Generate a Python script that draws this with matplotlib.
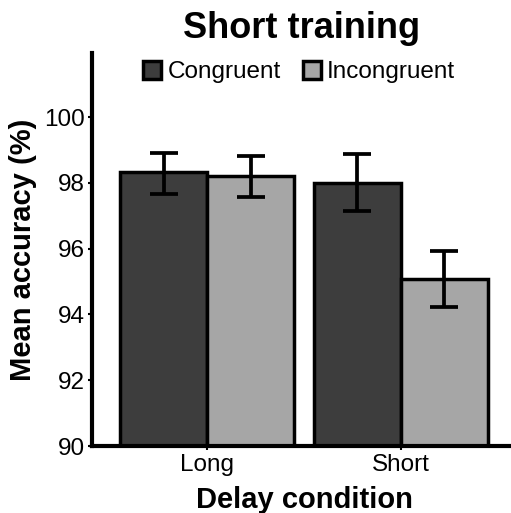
import matplotlib
matplotlib.use("Agg")
import matplotlib.pyplot as plt
import numpy as np
from matplotlib.patches import Patch

plt.rcParams['font.family'] = ['Liberation Sans', 'DejaVu Sans']

categories = ["Long", "Short"]
series = ["Congruent", "Incongruent"]
means_congruent = [98.32, 98.00]
means_incongruent = [98.20, 95.09]
err_low_congruent = [97.66, 97.14]
err_high_congruent = [98.90, 98.87]
err_low_incongruent = [97.58, 94.23]
err_high_incongruent = [98.81, 95.94]
colors = ["#3d3d3d", "#a6a6a6"]
yticks = [90, 92, 94, 96, 98, 100]

W, H = 511, 513
fig = plt.figure(figsize=(W/100, H/100), dpi=100)
left = 92 / W
bottom = (H - 446) / H
height = (446 - 53) / H
xlim = (0.404, 2.6)
px_per_unit = 193.5
width = (xlim[1] - xlim[0]) * px_per_unit / W
ax = fig.add_axes([left, bottom, width, height])

x = np.arange(1, len(categories) + 1)
bw = 0.45
means = [means_congruent, means_incongruent]
lows = [err_low_congruent, err_low_incongruent]
highs = [err_high_congruent, err_high_incongruent]
for i, (m, lo, hi, c) in enumerate(zip(means, lows, highs, colors)):
    pos = x + (i - 0.5) * bw
    ax.bar(pos, np.array(m) - 90, bottom=90, width=bw, color=c,
           edgecolor="black", linewidth=2.5, zorder=2)
    m = np.array(m); lo = np.array(lo); hi = np.array(hi)
    ax.errorbar(pos, m, yerr=[m - lo, hi - m], fmt="none", ecolor="black",
                elinewidth=2.7, capsize=10, capthick=2.7, zorder=3)

ax.set_xlim(*xlim)
ax.set_ylim(90, 101.95)
ax.set_yticks(yticks)
ax.set_xticks(x)
ax.set_xticklabels(categories)
for s in ["top", "right"]:
    ax.spines[s].set_visible(False)
for s in ["left", "bottom"]:
    ax.spines[s].set_linewidth(3)
ax.tick_params(axis="both", labelsize=17.5, width=1.5, length=3, colors="black")
ax.tick_params(axis="y", pad=2)
ax.tick_params(axis="x", pad=3)

ax.set_xlabel("Delay condition", fontsize=21, fontweight="bold", labelpad=7)
ax.set_ylabel("Mean accuracy (%)", fontsize=21, fontweight="bold", labelpad=5)
fig.text(302 / W, 1 - 28 / H, "Short training", fontsize=26, fontweight="bold",
         ha="center", va="center")

handles = [Patch(facecolor=c, edgecolor="black", linewidth=2.5, label=s)
           for c, s in zip(colors, series)]
fig.legend(handles=handles, loc="center", bbox_to_anchor=(299 / W, 1 - 72 / H),
           ncol=2, frameon=False, fontsize=17.5, handlelength=0.75, handleheight=0.75,
           handletextpad=0.25, columnspacing=0.9, borderaxespad=0)

fig.savefig("out.png", dpi=100)
